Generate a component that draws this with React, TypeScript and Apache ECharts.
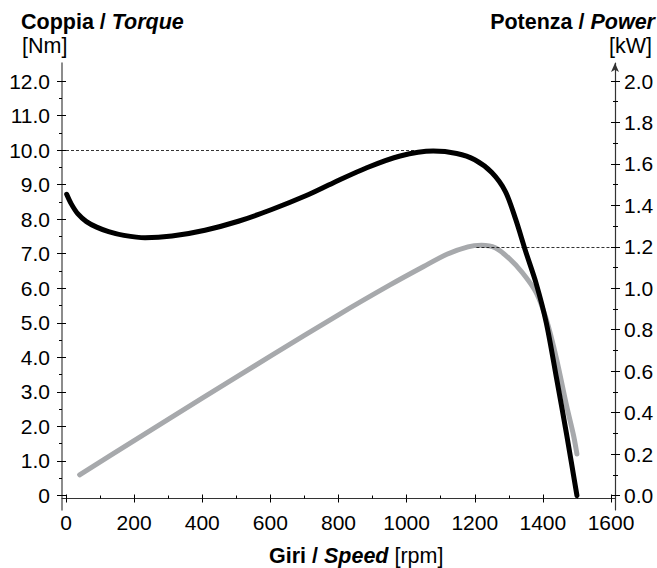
import React, { useEffect, useRef } from "react";
import * as echarts from "echarts";

// Torque curve (black) – rpm / Nm
const torqueRpm = [2, 15, 35, 60, 90, 125, 170, 232, 311, 408, 506, 604, 702, 784, 883, 981, 1078, 1147, 1200, 1250, 1290, 1320, 1350, 1380, 1410, 1440, 1470, 1500];
const torqueNm = [8.72, 8.45, 8.15, 7.93, 7.77, 7.64, 7.53, 7.46, 7.51, 7.68, 7.94, 8.28, 8.67, 9.05, 9.49, 9.83, 9.97, 9.9, 9.72, 9.35, 8.8, 8.0, 7.05, 6.15, 5.0, 3.4, 1.75, 0];

// Power curve (grey) – rpm / kW
const powerRpm = [40, 200, 400, 600, 800, 950, 1050, 1120, 1180, 1220, 1260, 1300, 1340, 1380, 1410, 1440, 1470, 1490, 1500];
const powerKw = [0.1, 0.265, 0.47, 0.672, 0.872, 1.015, 1.105, 1.165, 1.2, 1.207, 1.195, 1.145, 1.075, 0.98, 0.85, 0.66, 0.43, 0.29, 0.2];

// Reference (dashed) lines
const torqueRef = 10.0;
const torqueRefRpm = 1060;
const powerRef = 1.2;
const powerRefRpm = 1205;

// Axis ranges
const rpmMin = 0, rpmMax = 1600, rpmStep = 200;
const nmMin = 0, nmMax = 12, nmStep = 1;
const kwMin = 0, kwMax = 2, kwStep = 0.2;

const FONT = "'Liberation Sans', Arial, Helvetica, sans-serif";

export default function App() {
  const ref = useRef<HTMLDivElement>(null);
  useEffect(() => {
    if (!ref.current) return;
    const chart = echarts.init(ref.current, undefined, { renderer: "svg" });
    const tickLabel = { fontSize: 21, fontFamily: FONT, color: "#000" };
    const lineCol = "#333";
    const TS = 21.5;
    const titleRich = {
      b: { fontSize: TS, fontWeight: "bold", fontFamily: FONT, color: "#000" },
      bi: { fontSize: TS, fontWeight: "bold", fontStyle: "italic", fontFamily: FONT, color: "#000" },
      n: { fontSize: TS, fontFamily: FONT, color: "#000" },
    };
    const noZero = { onZero: false };
    const lineOnly = {
      axisTick: { show: false },
      minorTick: { show: false },
      splitLine: { show: false },
      axisLabel: { show: false },
    };
    const option: any = {
      animation: false,
      grid: [
        { left: 66, right: 46, top: 81, bottom: 72.5, containLabel: false },
        // frame grid: carries only the extended axis lines
        { left: 62, right: 42, top: 63, bottom: 58, containLabel: false },
      ],
      xAxis: [
        {
          type: "value", position: "bottom", min: rpmMin, max: rpmMax, interval: rpmStep, offset: 3,
          axisLine: { show: false, ...noZero },
          axisTick: { show: true, inside: false, length: 4, lineStyle: { color: "#000" } },
          minorTick: { show: false },
          splitLine: { show: false },
          axisLabel: { ...tickLabel, margin: 13, formatter: (v: number) => String(v) },
        },
        {
          type: "value", position: "bottom", min: rpmMin, max: rpmMax, interval: rpmStep, offset: 3,
          axisLine: { show: false, ...noZero },
          axisTick: { show: true, inside: true, length: 4, lineStyle: { color: "#000" } },
          minorTick: { show: true, splitNumber: 2, length: 3, lineStyle: { color: "#000" } },
          splitLine: { show: false },
          axisLabel: { show: false },
        },
        {
          gridIndex: 1, type: "value", position: "bottom", min: 0, max: 1, offset: -12, ...lineOnly,
          axisLine: { show: true, ...noZero, lineStyle: { color: lineCol, width: 1.2 } },
        },
      ],
      yAxis: [
        {
          type: "value", position: "left", min: nmMin, max: nmMax, interval: nmStep, offset: 4,
          axisLine: { show: false, ...noZero },
          axisTick: { show: true, inside: false, length: 5, lineStyle: { color: "#000" } },
          minorTick: { show: true, splitNumber: 2, length: 3, lineStyle: { color: "#000" } },
          splitLine: { show: false },
          axisLabel: { ...tickLabel, margin: 12, formatter: (v: number) => (v === 0 ? "0" : v.toFixed(1)) },
        },
        {
          type: "value", position: "right", min: kwMin, max: kwMax, interval: kwStep, offset: 4,
          axisLine: { show: false, ...noZero },
          axisTick: { show: true, inside: false, length: 5, lineStyle: { color: "#000" } },
          minorTick: { show: true, splitNumber: 2, length: 3, lineStyle: { color: "#000" } },
          splitLine: { show: false },
          axisLabel: { ...tickLabel, margin: 9, formatter: (v: number) => v.toFixed(1) },
        },
        {
          type: "value", position: "left", min: nmMin, max: nmMax, interval: nmStep, offset: 4,
          axisLine: { show: false, ...noZero },
          axisTick: { show: true, inside: true, length: 4, lineStyle: { color: "#000" } },
          minorTick: { show: false },
          splitLine: { show: false },
          axisLabel: { show: false },
        },
        {
          type: "value", position: "right", min: kwMin, max: kwMax, interval: kwStep, offset: 4,
          axisLine: { show: false, ...noZero },
          axisTick: { show: true, inside: true, length: 4, lineStyle: { color: "#000" } },
          minorTick: { show: true, splitNumber: 2, length: 2, lineStyle: { color: "#000" } },
          splitLine: { show: false },
          axisLabel: { show: false },
        },
        {
          gridIndex: 1, type: "value", position: "left", min: 0, max: 1, offset: 0, ...lineOnly,
          axisLine: { show: true, ...noZero, lineStyle: { color: "#666", width: 1.5 } },
        },
        {
          gridIndex: 1, type: "value", position: "right", min: 0, max: 1, offset: 0, ...lineOnly,
          axisLine: {
            show: true, ...noZero, symbol: ["none", "arrow"], symbolSize: [6, 9],
            lineStyle: { color: lineCol, width: 1.2 },
          },
        },
      ],
      series: [
        {
          name: "Potenza / Power",
          type: "line",
          xAxisIndex: 0,
          yAxisIndex: 1,
          data: powerRpm.map((r, i) => [r, powerKw[i]]),
          smooth: 0.3,
          showSymbol: false,
          lineStyle: { color: "#a7a9ac", width: 5, cap: "round", join: "round" },
          markLine: {
            silent: true,
            symbol: ["none", "none"],
            label: { show: false },
            lineStyle: { color: "#000", type: [3, 2], width: 0.8 },
            data: [[{ coord: [powerRefRpm, powerRef] }, { coord: [rpmMax, powerRef] }]],
          },
          z: 2,
        },
        {
          name: "Coppia / Torque",
          type: "line",
          xAxisIndex: 0,
          yAxisIndex: 0,
          data: torqueRpm.map((r, i) => [r, torqueNm[i]]),
          smooth: 0.3,
          showSymbol: false,
          lineStyle: { color: "#000", width: 5, cap: "round", join: "round" },
          markLine: {
            silent: true,
            symbol: ["none", "none"],
            label: { show: false },
            lineStyle: { color: "#000", type: [3, 2], width: 0.8 },
            data: [[{ coord: [rpmMin, torqueRef] }, { coord: [torqueRefRpm, torqueRef] }]],
          },
          z: 3,
        },
      ],
      graphic: [
        {
          type: "text", x: 21, y: 22,
          style: { text: "{b|Coppia / }{bi|Torque}", rich: titleRich, verticalAlign: "middle", align: "left" },
        },
        {
          type: "text", x: 22, y: 46,
          style: { text: "[Nm]", font: `${TS}px ${FONT}`, fill: "#000", verticalAlign: "middle", align: "left" },
        },
        {
          type: "text", x: 655, y: 22,
          style: { text: "{b|Potenza / }{bi|Power}", rich: titleRich, verticalAlign: "middle", align: "right" },
        },
        {
          type: "text", x: 652, y: 46,
          style: { text: "[kW]", font: `${TS}px ${FONT}`, fill: "#000", verticalAlign: "middle", align: "right" },
        },
        {
          type: "text", x: 269, y: 556,
          style: { text: "{b|Giri / }{bi|Speed}{n| [rpm]}", rich: titleRich, verticalAlign: "middle", align: "left" },
        },
      ],
    };
    chart.setOption(option);
    return () => chart.dispose();
  }, []);
  return (
    <div
      ref={ref}
      style={{ position: "fixed", left: 0, top: 0, width: 657, height: 568, background: "#fff" }}
    />
  );
}
